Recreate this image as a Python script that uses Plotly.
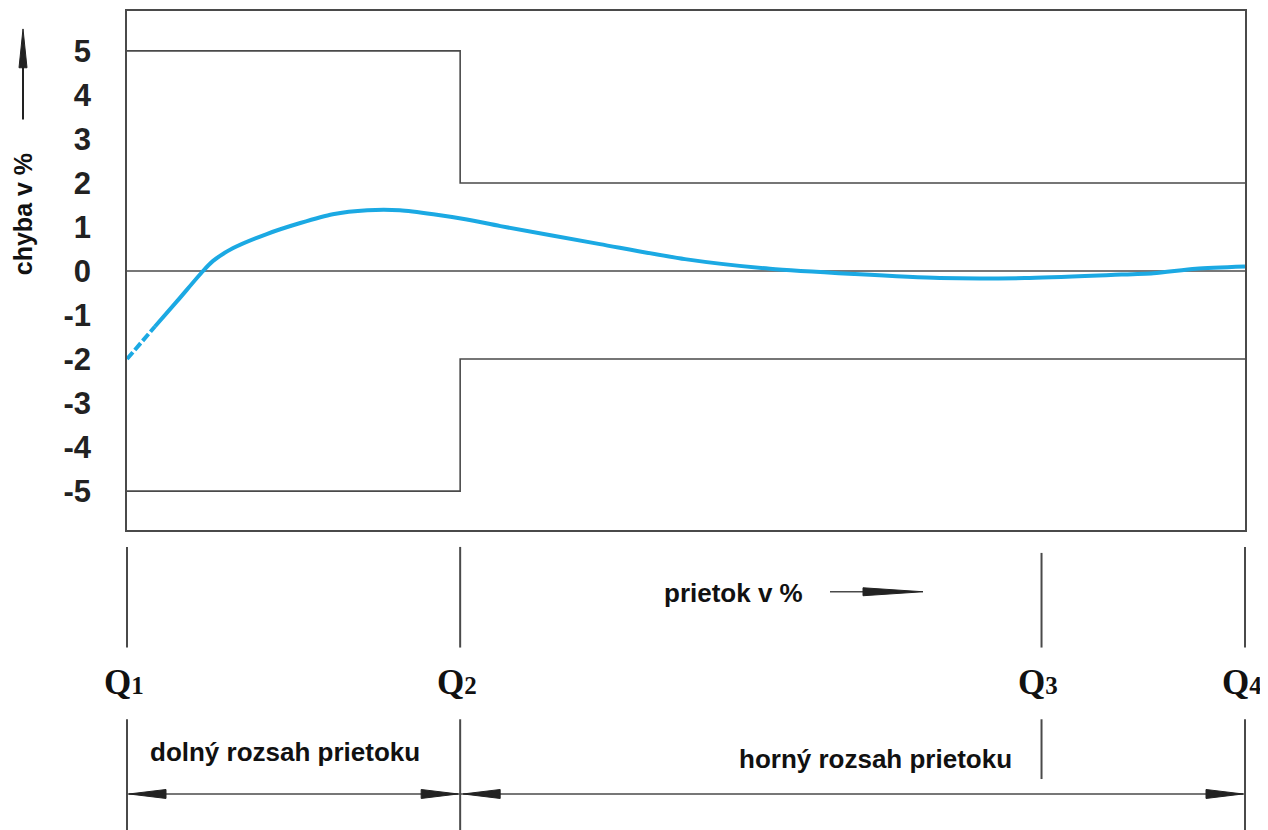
import plotly.graph_objects as go

# ---- data ----
q_labels = ["Q1", "Q2", "Q3", "Q4"]
q_positions = [0.0, 29.8, 81.8, 100.0]          # flow position in % of axis
y_ticks = [-5, -4, -3, -2, -1, 0, 1, 2, 3, 4, 5]

upper_x = [0.0, 29.8, 29.8, 100.0]
upper_y = [5, 5, 2, 2]
lower_x = [0.0, 29.8, 29.8, 100.0]
lower_y = [-5, -5, -2, -2]

dash_x = [0.0, 1.2, 2.5]
dash_y = [-2.0, -1.63, -1.26]
curve_x = [2.5, 4.5, 6.8, 7.7, 9.5, 12.5, 15.5, 18.4, 21.5, 24.4, 27.4, 30.4, 33.4,
           42.3, 49.9, 57.5, 65.1, 72.7, 80.3, 88.0, 91.8, 95.6, 100.0]
curve_y = [-1.26, -0.68, 0.0, 0.23, 0.52, 0.84, 1.09, 1.29, 1.38, 1.38, 1.29, 1.17, 1.02,
           0.61, 0.27, 0.05, -0.07, -0.16, -0.16, -0.09, -0.05, 0.05, 0.10]

# page geometry (the page body adds an 8px offset)
OFF = 8
PAGE_W, PAGE_H = 1268, 830
PLOT_L, PLOT_R, PLOT_T, PLOT_B = 127, 1245, 9, 530
W, H = PAGE_W - OFF, PAGE_H - OFF
ML, MR, MT, MB = PLOT_L - OFF, PAGE_W - PLOT_R, PLOT_T - OFF, PAGE_H - PLOT_B
PW, PH = PLOT_R - PLOT_L, PLOT_B - PLOT_T
XMIN, XMAX = 0.0, 100.0

def xp(v):   # data x -> paper
    return (v - XMIN) / (XMAX - XMIN)

def yp(py):  # page pixel y -> paper
    return (PLOT_B - py) / PH

def pxp(px):  # page pixel x -> paper
    return (px - PLOT_L) / PW

LINE = "#4a4a4a"
BLUE = "#1ba9e3"
sans = "Liberation Sans, Arial"

fig = go.Figure()
fig.add_trace(go.Scatter(x=[XMIN, XMAX], y=[0, 0], mode="lines",
                         line=dict(color=LINE, width=1.6), hoverinfo="skip"))
fig.add_trace(go.Scatter(x=upper_x, y=upper_y, mode="lines",
                         line=dict(color=LINE, width=1.6), hoverinfo="skip"))
fig.add_trace(go.Scatter(x=lower_x, y=lower_y, mode="lines",
                         line=dict(color=LINE, width=1.6), hoverinfo="skip"))
fig.add_trace(go.Scatter(x=dash_x, y=dash_y, mode="lines",
                         line=dict(color=BLUE, width=4, dash="9px,3px")))
fig.add_trace(go.Scatter(x=curve_x, y=curve_y, mode="lines",
                         line=dict(color=BLUE, width=4, shape="spline", smoothing=0.7)))

shapes = []
annotations = []

def vline(xpaper, py0, py1):
    shapes.append(dict(type="line", xref="paper", yref="paper",
                       x0=xpaper, x1=xpaper, y0=yp(py0), y1=yp(py1),
                       line=dict(color=LINE, width=2)))

def hline(xp0, xp1, py):
    shapes.append(dict(type="line", xref="paper", yref="paper",
                       x0=xp0, x1=xp1, y0=yp(py), y1=yp(py),
                       line=dict(color=LINE, width=1.6)))

def head(tip_px, py, direction, length=37, half=4.5):
    base = tip_px - direction * length
    path = "M {},{} L {},{} L {},{} Z".format(
        pxp(tip_px), yp(py), pxp(base), yp(py - half), pxp(base), yp(py + half))
    shapes.append(dict(type="path", xref="paper", yref="paper", path=path,
                       fillcolor="#222", line=dict(color="#222", width=1)))

def label(px, py, text, size=26, angle=0):
    annotations.append(dict(x=pxp(px), y=yp(py), xref="paper", yref="paper",
                            text=text, showarrow=False, textangle=angle,
                            xanchor="center", yanchor="middle",
                            font=dict(family=sans, size=size, color="#111", weight="bold")))

q_px = [PLOT_L + xp(q) * PW for q in q_positions]

for i, q in enumerate(q_positions):
    vline(xp(q), 553 if i == 2 else 547, 648)
for i, q in enumerate(q_positions):
    vline(xp(q), 720, 780 if i == 2 else 832)

for lab, q in zip(q_labels, q_positions):
    annotations.append(dict(
        x=xp(q) - 0.003, y=yp(683), xref="paper", yref="paper",
        text="<b>{}<span style='font-size:25px'>{}</span></b>".format(lab[0], lab[1]),
        showarrow=False, xanchor="center", yanchor="middle",
        font=dict(family="Liberation Serif, Times New Roman, serif", size=35, color="#111")))

arrow_y = 795
hline(xp(q_positions[0]), xp(q_positions[1]), arrow_y)
head(q_px[0] + 2, arrow_y, -1)
head(q_px[1] - 2, arrow_y, 1)
hline(xp(q_positions[1]), xp(q_positions[3]), arrow_y)
head(q_px[1] + 3, arrow_y, -1)
head(q_px[3] - 2, arrow_y, 1)

label(285, 753, "dolný rozsah prietoku")
label(875, 760, "horný rozsah prietoku")
label(733, 593, "prietok v %")
hline(pxp(830), pxp(890), 592)
head(923, 592, 1, length=60, half=4)

label(23, 213, "chyba v %", size=25, angle=-90)
shapes.append(dict(type="line", xref="paper", yref="paper",
                   x0=pxp(23), x1=pxp(23), y0=yp(118), y1=yp(60),
                   line=dict(color="#222", width=2)))
shapes.append(dict(type="path", xref="paper", yref="paper",
                   path="M {},{} L {},{} L {},{} Z".format(
                       pxp(23), yp(27), pxp(19), yp(66), pxp(27), yp(66)),
                   fillcolor="#222", line=dict(color="#222", width=1)))

# y range derived from page geometry: 0 at y=270, 44.2 px per unit
Y0_PX, PX_PER_UNIT = 270, 44.2
fig.update_layout(
    width=W, height=H,
    margin=dict(l=ML, r=MR, t=MT, b=MB, pad=0),
    paper_bgcolor="white", plot_bgcolor="white",
    showlegend=False,
    shapes=shapes, annotations=annotations,
    xaxis=dict(range=[XMIN, XMAX], showgrid=False, zeroline=False,
               showticklabels=False, ticks="", showline=True, mirror=True,
               linecolor=LINE, linewidth=1.6),
    yaxis=dict(range=[(Y0_PX - PLOT_B) / PX_PER_UNIT, (Y0_PX - PLOT_T) / PX_PER_UNIT],
               tickvals=y_ticks, ticktext=[str(v) for v in y_ticks],
               showgrid=False, zeroline=False, ticks="", showline=True, mirror=True,
               linecolor=LINE, linewidth=1.6, ticklabelstandoff=28,
               tickfont=dict(family="Liberation Sans, Arial", size=31, color="#222",
                             weight="bold")),
)

fig.write_html("out.html")
